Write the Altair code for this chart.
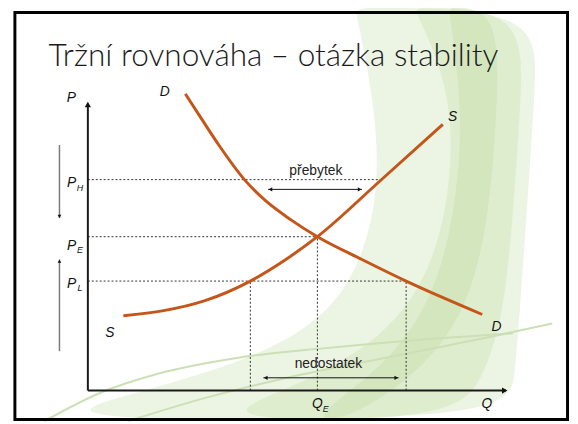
import altair as alt
import pandas as pd

TITLE = "Tržní rovnováha – otázka stability"

# ---- economic data (Q, P units) ----
demand_q = [2.47, 2.9, 3.32, 3.97, 4.52, 5.15, 5.82, 6.95, 8.07, 9.02, 10.0]
demand_p = [10.03, 9.15, 8.3, 7.13, 6.4, 5.77, 5.2, 4.43, 3.7, 3.13, 2.57]
supply_q = [0.9, 1.92, 2.95, 4.12, 5.02, 5.82, 7.42, 9.0]
supply_p = [2.53, 2.7, 3.03, 3.7, 4.43, 5.2, 7.1, 9.0]

price_names = ["H", "E", "L"]
price_levels = [7.13, 5.2, 3.7]
price_line_ends = [7.42, 5.82, 8.07]
price_label_p = [7.0, 4.9, 3.6]

quantity_levels = [4.12, 5.82, 8.07]
quantity_line_tops = [3.7, 5.2, 3.7]

axis_q_end = 10.65
axis_p_end = 9.77

gap_labels = ["přebytek", "nedostatek"]
gap_label_q = [5.78, 6.1]
gap_label_p = [7.43, 0.88]
gap_arrow_p = [6.8, 0.43]
gap_arrow_q1 = [4.57, 4.45]
gap_arrow_q2 = [6.95, 7.88]

side_arrow_q = [-0.72, -0.72]
side_arrow_from = [8.3, 1.33]
side_arrow_to = [5.83, 4.43]

curve_labels = ["D", "S", "S", "D", "P", "Q"]
curve_label_q = [1.95, 9.25, 0.56, 10.36, -0.42, 10.12]
curve_label_p = [10.1, 9.25, 1.95, 2.15, 9.9, -0.47]

# ---- slide decoration (screen pixels) ----
swirl_a_x = [360, 545, 543, 535, 528, 522, 515, 40, 120, 230, 320, 365, 385, 380, 360]
swirl_a_y = [5, 5, 80, 200, 300, 380, 424, 424, 400, 370, 330, 270, 190, 100, 5]
swirl_b_x = [420, 532, 528, 520, 510, 490, 460, 200, 300, 390, 440, 460, 455, 420]
swirl_b_y = [5, 5, 100, 220, 320, 380, 424, 424, 390, 340, 270, 170, 80, 5]
swirl_c_x = [455, 505, 505, 495, 470, 420, 350, 310, 390, 440, 462, 470, 455]
swirl_c_y = [5, 5, 100, 230, 320, 380, 424, 424, 370, 300, 210, 110, 5]
arc1_x = [45, 100, 160, 240, 330, 420, 520]
arc1_y = [424, 396, 376, 360, 350, 342, 335]
arc2_x = [130, 210, 300, 400, 500, 560]
arc2_y = [424, 400, 378, 358, 338, 325]

ORANGE = "#c5561a"
FONT = "Liberation Sans"

# ---------------- background layer (pixel scales) ----------------
px = alt.Scale(domain=[8, 578], nice=False, zero=False)
py = alt.Scale(domain=[8, 424], nice=False, zero=False, reverse=True)

def poly(xs, ys, name):
    return pd.DataFrame({"x": xs, "y": ys, "o": list(range(len(xs))), "k": name})

def poly_layer(df, color, op):
    return alt.Chart(df).mark_line(fill=color, fillOpacity=op, strokeOpacity=0, interpolate="basis-closed").encode(
        x=alt.X("x:Q", scale=px, axis=None),
        y=alt.Y("y:Q", scale=py, axis=None),
        order="o:Q",
    )

bg = [
    poly_layer(poly(swirl_a_x, swirl_a_y, "a"), "#e6f0d9", 0.75),
    poly_layer(poly(swirl_b_x, swirl_b_y, "b"), "#d6e7c0", 0.55),
    poly_layer(poly(swirl_c_x, swirl_c_y, "c"), "#c6dda8", 0.45),
]
for xs_, ys_ in [(arc1_x, arc1_y), (arc2_x, arc2_y)]:
    bg.append(
        alt.Chart(poly(xs_, ys_, "arc")).mark_line(color="#cddfb4", strokeWidth=2, interpolate="monotone").encode(
            x=alt.X("x:Q", scale=px, axis=None),
            y=alt.Y("y:Q", scale=py, axis=None),
            order="o:Q",
        )
    )

frame = alt.Chart(pd.DataFrame({"x": [15], "x2": [575.5], "y": [9.5], "y2": [422.5]})).mark_rect(
    fill=None, stroke="#000", strokeWidth=3
).encode(
    x=alt.X("x:Q", scale=px, axis=None), x2="x2:Q",
    y=alt.Y("y:Q", scale=py, axis=None), y2="y2:Q",
)

title = alt.Chart(pd.DataFrame({"x": [49], "y": [64], "t": [TITLE]})).mark_text(
    align="left", baseline="alphabetic", font="Lato", fontSize=32, fontWeight=300, color="#1a1a1a"
).encode(
    x=alt.X("x:Q", scale=px, axis=None),
    y=alt.Y("y:Q", scale=py, axis=None),
    text="t:N",
)

bg_layer = alt.layer(*bg, frame, title)

# ---------------- economic layer ----------------
xs = alt.Scale(domain=[-2.025, 12.225], nice=False, zero=False)
ys = alt.Scale(domain=[-1.0333, 12.8333], nice=False, zero=False)

def X(f):
    return alt.X(f, type="quantitative", scale=xs, axis=None)

def Y(f):
    return alt.Y(f, type="quantitative", scale=ys, axis=None)

guides = pd.DataFrame({
    "q": [0] * 3 + quantity_levels,
    "q2": price_line_ends + quantity_levels,
    "p": price_levels + [0] * 3,
    "p2": price_levels + quantity_line_tops,
})
guide_layer = alt.Chart(guides).mark_rule(color="#333", strokeWidth=1, strokeDash=[2, 2]).encode(
    x=X("q"), x2="q2:Q", y=Y("p"), y2="p2:Q"
)

axes = pd.DataFrame({"q": [0, 0], "q2": [axis_q_end - 0.05, 0], "p": [0, 0], "p2": [0, axis_p_end - 0.1]})
axis_layer = alt.Chart(axes).mark_rule(color="#1a1a1a", strokeWidth=2).encode(
    x=X("q"), x2="q2:Q", y=Y("p"), y2="p2:Q"
)

gaps = pd.DataFrame({"q": gap_arrow_q1, "q2": gap_arrow_q2, "p": gap_arrow_p})
gap_layer = alt.Chart(gaps).mark_rule(color="#111", strokeWidth=1).encode(
    x=X("q"), x2="q2:Q", y=Y("p")
)

sides = pd.DataFrame({"q": side_arrow_q, "p": side_arrow_from, "p2": side_arrow_to})
side_layer = alt.Chart(sides).mark_rule(color="#7a7a7a", strokeWidth=1.5).encode(
    x=X("q"), y=Y("p"), y2="p2:Q"
)

heads = pd.DataFrame({
    "q": [axis_q_end - 0.08, 0, gap_arrow_q1[0] + 0.06, gap_arrow_q2[0] - 0.06,
          gap_arrow_q1[1] + 0.06, gap_arrow_q2[1] - 0.06, side_arrow_q[0], side_arrow_q[1]],
    "p": [0, axis_p_end - 0.1, gap_arrow_p[0], gap_arrow_p[0], gap_arrow_p[1], gap_arrow_p[1],
          side_arrow_to[0] + 0.06, side_arrow_to[1] - 0.06],
    "shape": ["triangle-right", "triangle-up", "triangle-left", "triangle-right",
              "triangle-left", "triangle-right", "triangle-down", "triangle-up"],
    "s": [40, 40, 18, 18, 18, 18, 14, 14],
})
head_layer = alt.Chart(heads).mark_point(filled=True, color="#111", opacity=1, strokeWidth=0).encode(
    x=X("q"), y=Y("p"),
    shape=alt.Shape("shape:N", scale=None),
    size=alt.Size("s:Q", scale=None),
)

dem = pd.DataFrame({"q": demand_q, "p": demand_p})
sup = pd.DataFrame({"q": supply_q, "p": supply_p})
dem_layer = alt.Chart(dem).mark_line(color=ORANGE, strokeWidth=3, interpolate="monotone").encode(x=X("q"), y=Y("p"))
sup_layer = alt.Chart(sup).mark_line(color=ORANGE, strokeWidth=3, interpolate="monotone").encode(x=X("q"), y=Y("p"))

lab = pd.DataFrame({"q": curve_label_q, "p": curve_label_p, "t": curve_labels})
lab_layer = alt.Chart(lab).mark_text(font=FONT, fontSize=14, fontStyle="italic", color="#111").encode(
    x=X("q"), y=Y("p"), text="t:N"
)

plab = pd.DataFrame({"q": [-0.41] * 3 + [5.82], "p": price_label_p + [-0.47], "t": ["P"] * 3 + ["Q"]})
plab_layer = alt.Chart(plab).mark_text(font=FONT, fontSize=14, fontStyle="italic", color="#111").encode(
    x=X("q"), y=Y("p"), text="t:N"
)
sub = pd.DataFrame({"q": [-0.2] * 3 + [6.03], "p": [v - 0.14 for v in price_label_p] + [-0.63],
                    "t": price_names + ["E"]})
sub_layer = alt.Chart(sub).mark_text(font=FONT, fontSize=9, fontStyle="italic", color="#111").encode(
    x=X("q"), y=Y("p"), text="t:N"
)

gl = pd.DataFrame({"q": gap_label_q, "p": gap_label_p, "t": gap_labels})
gl_layer = alt.Chart(gl).mark_text(font=FONT, fontSize=14, color="#222").encode(
    x=X("q"), y=Y("p"), text="t:N"
)

fg_layer = alt.layer(guide_layer, axis_layer, gap_layer, side_layer, head_layer,
                     dem_layer, sup_layer, lab_layer, plab_layer, sub_layer, gl_layer)

chart = alt.layer(bg_layer, fg_layer).resolve_scale(x="independent", y="independent").properties(
    width=570, height=416, padding=0, autosize=alt.AutoSizeParams(type="none"),
    background="white",
).configure_view(stroke=None)

chart.save("out.html", embed_options={"renderer": "svg", "actions": False})
